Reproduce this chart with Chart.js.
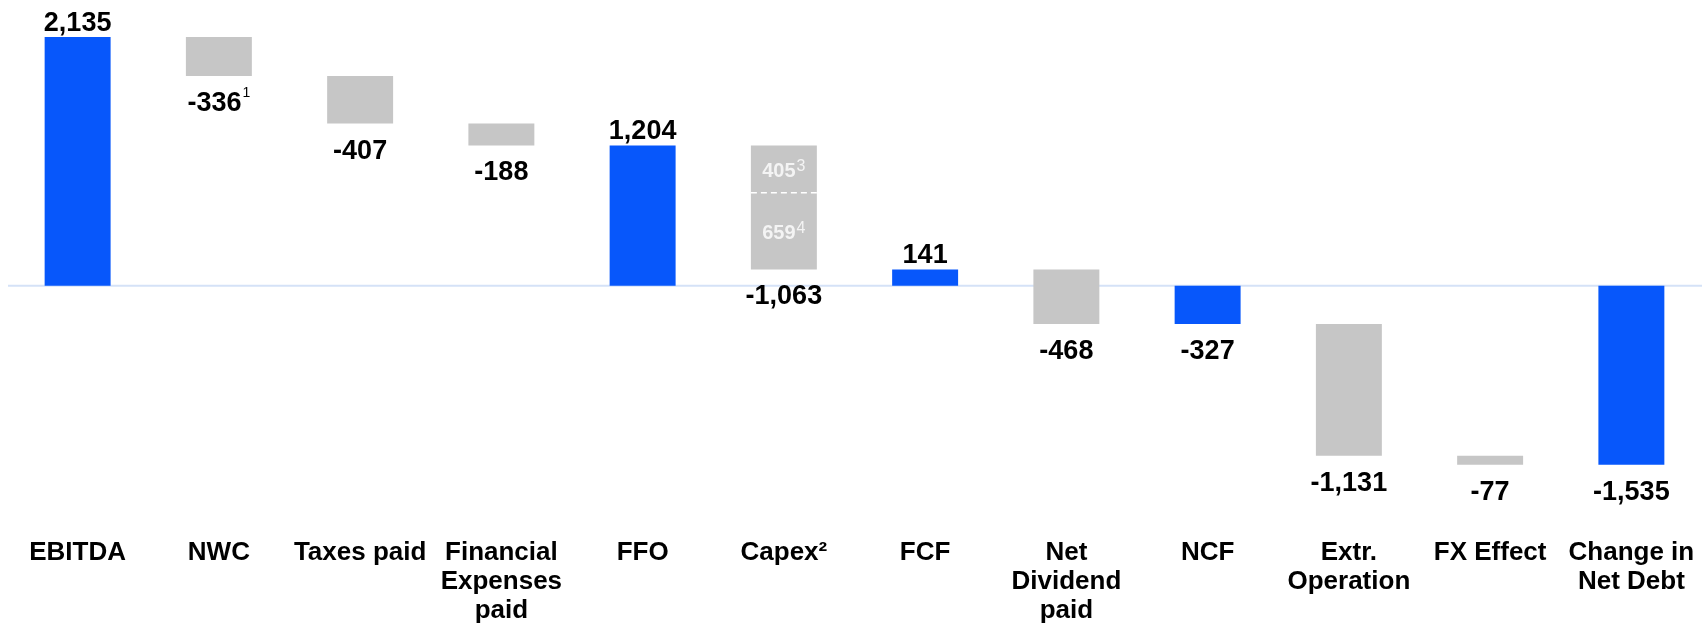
<!DOCTYPE html>
<html>
<head>
<meta charset="utf-8">
<script src="https://cdn.jsdelivr.net/npm/chart.js@4.4.0/dist/chart.umd.min.js"></script>
<style>
    html, body { margin: 0; padding: 0; background: #fff; }
</style>
</head>
<body>
<canvas id="cf-chart" width="1702" height="625"></canvas>
<script>
// Categories (multi-line labels as arrays)
const categories = [
    'EBITDA', 'NWC', 'Taxes paid', ['Financial', 'Expenses', 'paid'], 'FFO', 'Capex\u00B2', 'FCF',
    ['Net', 'Dividend', 'paid'], 'NCF', ['Extr.', 'Operation'], 'FX Effect', ['Change in', 'Net Debt']
];
const values = [2135, -336, -407, -188, 1204, -1063, 141, -468, -327, -1131, -77, -1535];
const isTotal = [true, false, false, false, true, false, true, false, true, false, false, true];
const footnotes = ['', '1', '', '', '', '', '', '', '', '', '', ''];

// Capex split
const capexIndex = 5;
const capexParts = [405, 659];
const capexNotes = ['3', '4'];

const BLUE = '#0757FB';
const GREY = '#C6C6C6';
const FONT = '"Liberation Sans", Arial, sans-serif';

// Waterfall ranges from the values
let running = 0;
const ranges = values.map(function(v, i) {
    if (isTotal[i]) {
        running = v;
        return [0, v];
    }
    const start = running;
    running += v;
    return [start, running];
});

// Text with a small superscript note, centred as a whole on x
function drawNoted(ctx, text, note, x, y, font, noteFont, color, rise) {
    ctx.font = font;
    const w1 = ctx.measureText(text).width;
    let w2 = 0;
    if (note) {
        ctx.font = noteFont;
        w2 = ctx.measureText(note).width + 1;
    }
    const left = x - (w1 + w2) / 2;
    ctx.fillStyle = color;
    ctx.textAlign = 'left';
    ctx.textBaseline = 'alphabetic';
    ctx.font = font;
    ctx.fillText(text, left, y);
    if (note) {
        ctx.font = noteFont;
        ctx.fillText(note, left + w1 + 1, y - rise);
    }
}

const zeroLine = {
    id: 'zeroLine',
    beforeDatasetsDraw(chart) {
        const ctx = chart.ctx;
        const y = chart.scales.y.getPixelForValue(0);
        ctx.save();
        ctx.strokeStyle = '#D5E2F7';
        ctx.lineWidth = 2;
        ctx.beginPath();
        ctx.moveTo(chart.chartArea.left + 1, y);
        ctx.lineTo(chart.chartArea.right, y);
        ctx.stroke();
        ctx.restore();
    }
};

const valueLabels = {
    id: 'valueLabels',
    afterDatasetsDraw(chart) {
        const ctx = chart.ctx;
        const yScale = chart.scales.y;
        const bars = chart.getDatasetMeta(0).data;
        ctx.save();

        bars.forEach(function(bar, i) {
            const top = Math.min(bar.y, bar.base);
            const bottom = Math.max(bar.y, bar.base);
            const text = values[i].toLocaleString('en-US');
            const y = values[i] >= 0 ? top - 6 : bottom + 35;
            drawNoted(ctx, text, footnotes[i], bar.x, y,
                'bold 27px ' + FONT, '14px ' + FONT, '#000', 14);
        });

        // Capex split: dashed divider and inner labels
        const cb = bars[capexIndex];
        const start = ranges[capexIndex][0];
        const yTop = yScale.getPixelForValue(start);
        const ySplit = yScale.getPixelForValue(start - capexParts[0]);
        const yBot = yScale.getPixelForValue(start - capexParts[0] - capexParts[1]);

        ctx.strokeStyle = '#FFFFFF';
        ctx.lineWidth = 1.5;
        ctx.setLineDash([6, 4]);
        ctx.beginPath();
        ctx.moveTo(cb.x - cb.width / 2, ySplit);
        ctx.lineTo(cb.x + cb.width / 2, ySplit);
        ctx.stroke();
        ctx.setLineDash([]);

        const segs = [[yTop, ySplit], [ySplit, yBot]];
        segs.forEach(function(s, k) {
            const mid = (s[0] + s[1]) / 2;
            drawNoted(ctx, String(capexParts[k]), capexNotes[k], cb.x, mid + 8,
                'bold 20px ' + FONT, '16px ' + FONT, '#F4F4F4', 6);
        });

        ctx.restore();
    }
};

new Chart(document.getElementById('cf-chart'), {
    type: 'bar',
    data: {
        labels: categories,
        datasets: [{
            data: ranges,
            backgroundColor: isTotal.map(function(t) { return t ? BLUE : GREY; }),
            borderWidth: 0,
            borderSkipped: false,
            barPercentage: 0.467,
            categoryPercentage: 1
        }]
    },
    options: {
        responsive: false,
        animation: false,
        layout: {
            padding: { top: 6, left: 7, right: 0, bottom: 0 }
        },
        plugins: {
            legend: { display: false },
            tooltip: { enabled: false }
        },
        scales: {
            x: {
                grid: { display: false, drawTicks: true, tickLength: 19 },
                border: { display: false },
                ticks: {
                    color: '#000',
                    padding: 0,
                    maxRotation: 0,
                    autoSkip: false,
                    font: { family: FONT, size: 26, weight: 'bold', lineHeight: '29px' }
                },
                afterFit: function(scale) {
                    scale.height = 106;
                    scale.paddingLeft = 0;
                    scale.paddingRight = 0;
                }
            },
            y: {
                display: false,
                min: -2000,
                max: 2400
            }
        }
    },
    plugins: [zeroLine, valueLabels]
});
</script>
</body>
</html>
